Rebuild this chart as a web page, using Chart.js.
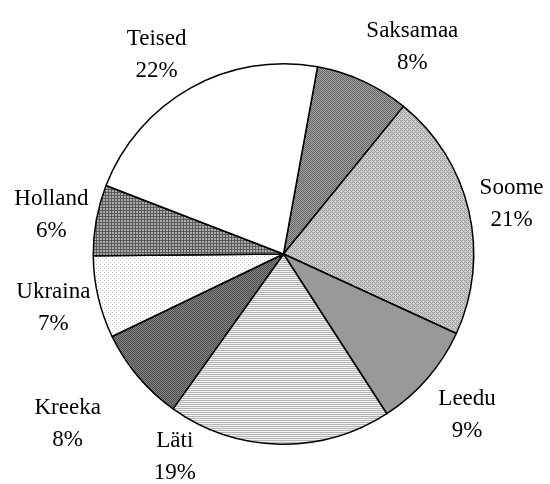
<!DOCTYPE html>
<html>
<head>
<meta charset="utf-8">
<script src="https://cdn.jsdelivr.net/npm/chart.js@4"></script>
<style>
  html, body { margin: 0; padding: 0; background: #fff; }
  #wrap { width: 550px; height: 484px; }
</style>
</head>
<body>
<div id="wrap"><canvas id="pie" width="550" height="484"></canvas></div>
<script>
// shares by country, clockwise starting just right of 12 o'clock
const countries = ['Saksamaa', 'Soome', 'Leedu', 'Läti', 'Kreeka', 'Ukraina', 'Holland', 'Teised'];
const shares = [8, 21, 9, 19, 8, 7, 6, 22];
const shareLabels = ['8%', '21%', '9%', '19%', '8%', '7%', '6%', '22%'];

// small bitmap fills to mimic the old grayscale hatch patterns
function tile(w, h, draw) {
  const c = document.createElement('canvas');
  c.width = w; c.height = h;
  const g = c.getContext('2d');
  draw(g);
  return document.getElementById('pie').getContext('2d').createPattern(c, 'repeat');
}
function px(g, col, pts) {
  g.fillStyle = col;
  pts.forEach(p => g.fillRect(p[0], p[1], 1, 1));
}

const fills = {
  Saksamaa: tile(2, 2, g => { g.fillStyle = '#a2a2a2'; g.fillRect(0, 0, 2, 2); px(g, '#666666', [[0, 0], [1, 1]]); }),
  Soome: tile(4, 4, g => { g.fillStyle = '#cdcdcd'; g.fillRect(0, 0, 4, 4); px(g, '#9c9c9c', [[0, 0], [1, 1], [2, 2], [3, 3], [2, 0], [0, 2]]); }),
  Leedu: '#999999',
  'Läti': tile(2, 2, g => { g.fillStyle = '#f2f2f2'; g.fillRect(0, 0, 2, 2); px(g, '#b4b4b4', [[0, 0], [1, 0]]); }),
  Kreeka: tile(2, 2, g => { g.fillStyle = '#858585'; g.fillRect(0, 0, 2, 2); px(g, '#4c4c4c', [[0, 0], [1, 1]]); }),
  Ukraina: tile(4, 4, g => { g.fillStyle = '#ffffff'; g.fillRect(0, 0, 4, 4); px(g, '#c4c4c4', [[0, 0], [2, 2]]); }),
  Holland: tile(3, 3, g => { g.fillStyle = '#acacac'; g.fillRect(0, 0, 3, 3); g.fillStyle = '#5a5a5a'; g.fillRect(0, 0, 3, 1); g.fillRect(0, 0, 1, 3); }),
  Teised: '#ffffff'
};

// a couple of labels were dragged by hand in the original
const labelNudge = { 'Läti': [-103, -29], Kreeka: [-31, 20], Leedu: [5, 8], Soome: [3, 0] };

const FONT = '23px "Liberation Serif", "Times New Roman", serif';

const outsideLabels = {
  id: 'outsideLabels',
  afterDraw(chart) {
    const ctx = chart.ctx;
    const meta = chart.getDatasetMeta(0);
    ctx.save();
    ctx.font = FONT;
    ctx.fillStyle = '#000';
    ctx.textAlign = 'center';
    ctx.textBaseline = 'alphabetic';
    meta.data.forEach((arc, i) => {
      const mid = (arc.startAngle + arc.endAngle) / 2;
      const ux = Math.cos(mid), uy = Math.sin(mid);
      const r = arc.outerRadius + 8;
      const name = countries[i];
      const w = Math.max(ctx.measureText(name).width, ctx.measureText(shareLabels[i]).width);
      const sx = Math.max(-1, Math.min(1, ux * 2.5));
      let cx = arc.x + r * ux + (w / 2) * sx;
      let cy = arc.y + r * uy + 32 * uy;
      const n = labelNudge[name];
      if (n) { cx += n[0]; cy += n[1]; }
      ctx.fillText(name, cx, cy - 8);
      ctx.fillText(shareLabels[i], cx, cy + 24);
    });
    ctx.restore();
  }
};

new Chart(document.getElementById('pie'), {
  type: 'pie',
  data: {
    labels: countries,
    datasets: [{
      data: shares,
      backgroundColor: countries.map(c => fills[c]),
      borderColor: '#000',
      borderWidth: 1.5
    }]
  },
  options: {
    responsive: false,
    animation: false,
    rotation: 10.3,
    layout: { padding: { left: 92.5, right: 75.5, top: 63, bottom: 39 } },
    plugins: {
      legend: { display: false },
      tooltip: { enabled: false }
    },
    events: []
  },
  plugins: [outsideLabels]
});
</script>
</body>
</html>
